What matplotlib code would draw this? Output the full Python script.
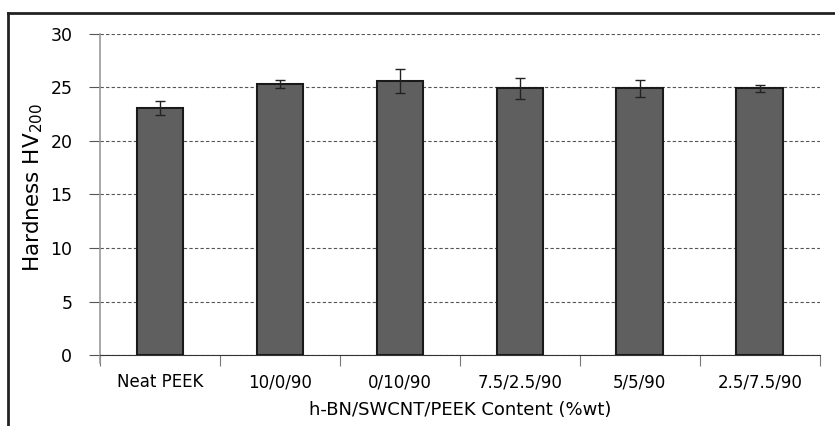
import matplotlib.pyplot as plt
from matplotlib.lines import Line2D

# Data
categories = ["Neat PEEK", "10/0/90", "0/10/90", "7.5/2.5/90", "5/5/90", "2.5/7.5/90"]
hardness = [23.1, 25.3, 25.6, 24.9, 24.9, 24.9]
errors = [0.65, 0.35, 1.1, 0.95, 0.8, 0.35]

plt.rcParams['font.family'] = ['DejaVu Sans']

fig = plt.figure(figsize=(8.35, 4.26), dpi=100)
ax = fig.add_axes([0.1198, 0.166, 0.862, 0.755])

x = list(range(len(categories)))
ax.bar(x, hardness, width=0.39, color='#5e5f5e', edgecolor='#1a1a1a', linewidth=1.5, zorder=3)
ax.errorbar(x, hardness, yerr=errors, fmt='none', ecolor='#222222', elinewidth=1.0,
            capsize=3.5, capthick=1.0, zorder=4)

ax.set_xlim(-0.5, len(categories) - 0.5)
ax.set_ylim(0, 30)

# dashed grid lines
ax.set_yticks(range(0, 31, 5))
ax.yaxis.grid(True, linestyle=(0, (3, 2)), color='#555555', linewidth=0.8, zorder=1)
ax.tick_params(axis='y', length=8, color='#555555', labelsize=12.5, pad=12)

# category boundary ticks, labels at centres
ax.set_xticks([i - 0.5 for i in range(len(categories) + 1)])
ax.set_xticklabels([])
ax.set_xticks(x, minor=True)
ax.set_xticklabels(categories, minor=True, fontsize=12)
ax.tick_params(axis='x', which='minor', length=0, pad=13)
ax.tick_params(axis='x', which='major', length=8, color='#777777')

for side in ['top', 'right']:
    ax.spines[side].set_visible(False)
ax.spines['left'].set_color('#999999')
ax.spines['left'].set_linewidth(1.2)
ax.spines['left'].set_bounds(-0.75, 30)
ax.spines['bottom'].set_color('#333333')

ax.set_ylabel("Hardness HV$_{200}$", fontsize=15.5)
ax.yaxis.set_label_coords(-0.077, 0.52)
ax.set_xlabel("h-BN/SWCNT/PEEK Content (%wt)", fontsize=13, labelpad=7)

# outer frame (left and top edges)
fig.add_artist(Line2D([0.009, 0.009], [0, 0.969], color='#222222', linewidth=2))
fig.add_artist(Line2D([0.009, 1.0], [0.969, 0.969], color='#222222', linewidth=2))

fig.savefig("out.png", dpi=100)
